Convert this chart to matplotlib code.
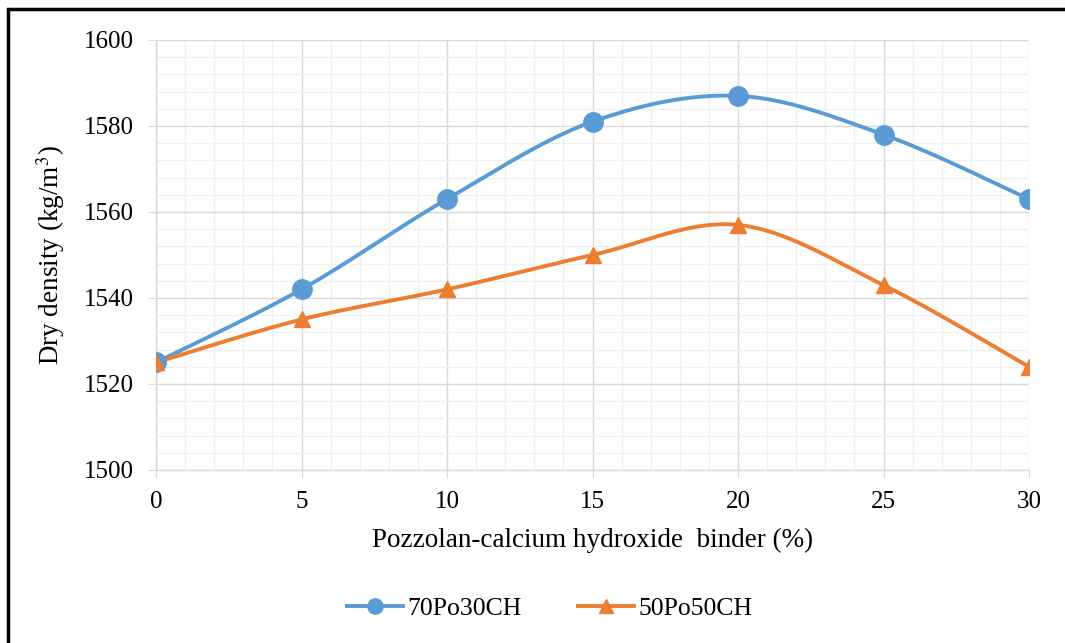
"""Dry density vs pozzolan-calcium hydroxide binder content."""

import matplotlib

matplotlib.use("Agg")
import matplotlib.pyplot as plt  # noqa: E402
import numpy as np  # noqa: E402
from matplotlib.lines import Line2D  # noqa: E402
from matplotlib.patches import Rectangle  # noqa: E402

plt.rcParams.update(
    {
        "font.family": ["Liberation Serif", "DejaVu Serif"],
        "mathtext.fontset": "stix",
        "font.size": 17,
    }
)

binder = [0, 5, 10, 15, 20, 25, 30]
po70_ch30 = [1525, 1542, 1563, 1581, 1587, 1578, 1563]
po50_ch50 = [1525, 1535, 1542, 1550, 1557, 1543, 1524]
series_names = ["70Po30CH", "50Po50CH"]

BLUE = "#5B9BD5"
ORANGE = "#ED7D31"


def smooth(xs, ys, n=30):
    # Excel-like smoothed line: cubic Bezier with Catmull-Rom style handles
    p = np.column_stack([xs, ys]).astype(float)
    out = []
    for i in range(len(p) - 1):
        p0 = p[max(i - 1, 0)]
        p1, p2 = p[i], p[i + 1]
        p3 = p[min(i + 2, len(p) - 1)]
        c1 = p1 + (p2 - p0) / 6
        c2 = p2 - (p3 - p1) / 6
        t = np.linspace(0, 1, n)[:, None]
        seg = (1 - t) ** 3 * p1 + 3 * (1 - t) ** 2 * t * c1 + 3 * (1 - t) * t**2 * c2 + t**3 * p2
        out.append(seg if i == 0 else seg[1:])
    seg = np.vstack(out)
    return seg[:, 0], seg[:, 1]


fig = plt.figure(figsize=(10.65, 6.43), dpi=100)
ax = fig.add_axes([0.1465, 0.2691, 0.9662 - 0.1465, 0.9378 - 0.2691])

for ys, color, marker, ms in [
    (po70_ch30, BLUE, "o", 14),
    (po50_ch50, ORANGE, "^", 12),
]:
    sx, sy = smooth(binder, ys)
    ax.plot(sx, sy, color=color, lw=2.8, zorder=3, solid_capstyle="round")
    ax.plot(binder, ys, ls="none", marker=marker, ms=ms, color=color, zorder=4)

ax.set_xlim(0, 30)
ax.set_ylim(1500, 1600)
ax.set_xticks(range(0, 31, 5))
ax.set_yticks(range(1500, 1601, 20))
ax.set_xticks(range(0, 31, 1), minor=True)
ax.set_yticks(range(1500, 1601, 4), minor=True)
ax.grid(which="major", color="#d9d9d9", lw=1.0, zorder=1)
ax.grid(which="minor", color="#f0f0f0", lw=1.0, zorder=0)
ax.set_axisbelow(True)
for side in ["top", "right"]:
    ax.spines[side].set_visible(False)
for side in ["left", "bottom"]:
    ax.spines[side].set_color("#d9d9d9")
    ax.spines[side].set_linewidth(1.0)
ax.tick_params(which="major", direction="out", length=6, color="#d9d9d9",
               labelsize=18, pad=10)
ax.tick_params(which="minor", length=0)
ax.tick_params(axis="x", pad=9)

ax.set_xlabel("Pozzolan-calcium hydroxide  binder (%)", fontsize=19.5, labelpad=11)
ax.set_ylabel("Dry density (kg/m$^{3}$)", fontsize=19.5, labelpad=12)

handles = [
    Line2D([], [], color=BLUE, lw=2.8, marker="o", ms=11),
    Line2D([], [], color=ORANGE, lw=2.8, marker="^", ms=10),
]
fig.legend(handles, series_names, loc="center", bbox_to_anchor=(0.516, 0.054),
           ncol=2, frameon=False, fontsize=18.5, handlelength=2.2,
           columnspacing=2.2, handletextpad=0.15)

# partial black frame around the picture (left and top edges visible)
fig.add_artist(Rectangle((8 / 1065, -0.2), 1.5, 1.2 - 9 / 643, transform=fig.transFigure,
                         fill=False, ec="black", lw=2.5))

fig.savefig("out.png", dpi=100)
